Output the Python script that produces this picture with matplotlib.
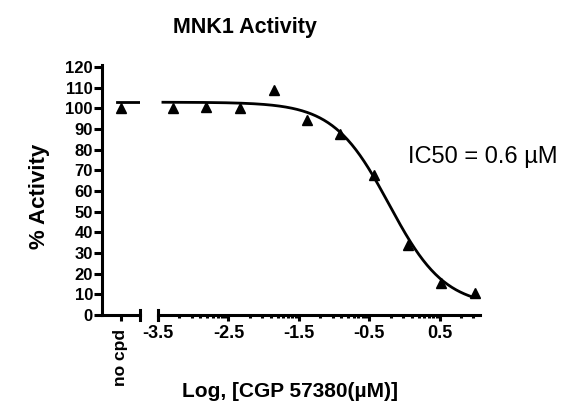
import numpy as np
import matplotlib
matplotlib.use("Agg")
import matplotlib.pyplot as plt

plt.rcParams['font.family'] = ['Liberation Sans', 'DejaVu Sans']

# data
log_conc = [-3.29, -2.82, -2.34, -1.86, -1.39, -0.91, -0.43, 0.05, 0.52, 1.0]
activity = [100.3, 100.5, 100.0, 109.0, 94.6, 87.8, 68.0, 34.0, 15.4, 10.6]
no_cpd_activity = [100.0]

# fitted curve parameters (4PL)
fit_top = 103.0
fit_bottom = 4.0
fit_log_ic50 = -0.22
fit_hill = 1.1

y_ticks = list(range(0, 121, 10))
x_major = [-3.5, -2.5, -1.5, -0.5, 0.5]
x_labels = ['-3.5', '-2.5', '-1.5', '-0.5', '0.5']


def four_pl(x):
    return fit_bottom + (fit_top - fit_bottom) / (
        1 + 10 ** ((x - fit_log_ic50) * fit_hill))


W, H = 584, 415
fig = plt.figure(figsize=(W / 100, H / 100), dpi=100)


def px_box(x0, x1, y_top, y_bot):
    return [x0 / W, (H - y_bot) / H, (x1 - x0) / W, (y_bot - y_top) / H]


lw = 2.2
ax0 = fig.add_axes(px_box(102, 140, 65, 315))
ax1 = fig.add_axes(px_box(158, 480, 65, 315), sharey=ax0)

for ax in (ax0, ax1):
    ax.spines['top'].set_visible(False)
    ax.spines['right'].set_visible(False)
    ax.spines['bottom'].set_linewidth(lw)
    ax.spines['left'].set_linewidth(lw)
    ax.set_ylim(0, 121)
    ax.tick_params(width=lw, length=4)
    ax.tick_params(which='minor', width=lw, length=2.5)

# no cpd segment
ax0.set_xlim(0, 2)
ax0.plot([1], no_cpd_activity, marker='^', ls='none', color='black', ms=7)
ax0.plot([0.8, 2.0], [fit_top, fit_top], color='black', lw=2)
ax0.set_xticks([1])
ax0.set_xticklabels(['no cpd'], rotation=90, fontsize=12.5, fontweight='bold')
ax0.set_yticks(y_ticks)
ax0.set_yticklabels([str(v) for v in y_ticks], fontsize=12, fontweight='bold')
ax0.tick_params(axis='y', pad=0.5, length=6)
ax0.tick_params(axis='x', pad=6)
ax0.plot([2.0, 2.0], [-2.5, 2.5], color='black', lw=lw, clip_on=False)

# main segment
ax1.set_xlim(-3.5, 1.07)
x_fit = np.linspace(-3.43, 0.95, 300)
ax1.plot(x_fit, four_pl(x_fit), color='black', lw=2)
ax1.plot(log_conc, activity, marker='^', ls='none', color='black', ms=7)
ax1.spines['left'].set_visible(False)
ax1.tick_params(axis='y', left=False, labelleft=False)
ax1.set_xticks(x_major)
ax1.set_xticklabels(x_labels, fontsize=13, fontweight='bold')
ax1.tick_params(axis='x', pad=3)
minor = [m + np.log10(k) for m in x_major for k in range(2, 10)
         if m + np.log10(k) <= 1.07]
ax1.set_xticks(minor, minor=True)
ax1.plot([-3.5, -3.5], [-2.5, 2.5], color='black', lw=lw, clip_on=False)

fig.text(245 / W, 1 - 28 / H, 'MNK1 Activity', ha='center', va='center',
         fontsize=15.5, fontweight='bold')
fig.text(40 / W, 1 - 196 / H, '% Activity', ha='center', va='center',
         rotation=90, fontsize=16, fontweight='bold')
fig.text(290 / W, 1 - 391 / H, 'Log, [CGP 57380(\u00b5M)]', ha='center',
         va='center', fontsize=15, fontweight='bold')
fig.text(408 / W, 1 - 157 / H, 'IC50 = 0.6 \u00b5M', ha='left', va='center',
         fontsize=17)

fig.savefig('out.png', dpi=100)
